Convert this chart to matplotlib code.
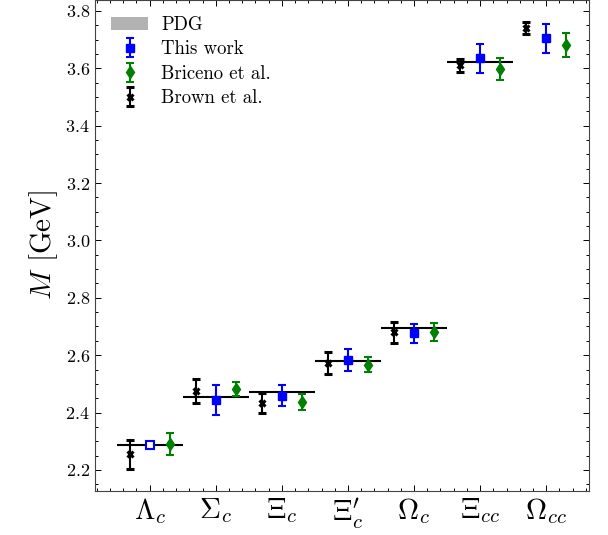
import numpy as np
import matplotlib
matplotlib.use("Agg")
import matplotlib.pyplot as plt
from matplotlib.ticker import MultipleLocator

plt.rcParams['font.family'] = 'serif'
plt.rcParams['font.serif'] = ['cmr10']
plt.rcParams['mathtext.fontset'] = 'cm'
plt.rcParams['axes.formatter.use_mathtext'] = True

# Charmed baryon masses in GeV
baryons = [r'$\Lambda_c$', r'$\Sigma_c$', r'$\Xi_c$', r"$\Xi_c'$",
           r'$\Omega_c$', r'$\Xi_{cc}$', r'$\Omega_{cc}$']

pdg = [2.286, 2.454, 2.470, 2.578, 2.695, 3.621]
pdg_err = [0.0002, 0.0002, 0.0003, 0.0005, 0.0002, 0.0004]

this_work = [2.286, 2.443, 2.459, 2.584, 2.676, 3.635, 3.705]
this_work_err = [0.0, 0.052, 0.036, 0.038, 0.032, 0.050, 0.050]

briceno = [2.290, 2.482, 2.436, 2.567, 2.682, 3.597, 3.682]
briceno_err = [0.038, 0.024, 0.028, 0.026, 0.031, 0.039, 0.041]

brown = [2.254, 2.474, 2.433, 2.573, 2.680, 3.611, 3.739]
brown_err = [0.049, 0.042, 0.036, 0.039, 0.037, 0.023, 0.021]

x = np.arange(len(baryons))
xp = np.arange(len(pdg))

fig = plt.figure(figsize=(6.08, 5.35), dpi=100)
ax = fig.add_axes([0.156, 0.083, 0.813, 0.917])

# PDG values as short horizontal bands across each slot
for i in xp:
    ax.fill_between([i - 0.5, i + 0.5], pdg[i] - pdg_err[i], pdg[i] + pdg_err[i],
                    color='gray', alpha=0.6, lw=0, label='PDG' if i == 0 else None)
    ax.hlines(pdg[i], i - 0.5, i + 0.5, color='black', lw=1.5, zorder=2)

eb = dict(capsize=3, elinewidth=1.5, capthick=1.5, ls='none', zorder=3)

ax.errorbar(x[1:], this_work[1:], yerr=this_work_err[1:], fmt='s', color='blue',
            ms=6, label='This work', **eb)
ax.plot(x[0], this_work[0], 's', color='blue', mfc='white', mew=1.5, ms=6, zorder=4)
ax.errorbar(x + 0.3, briceno, yerr=briceno_err, fmt='d', color='green',
            ms=6, label='Briceno et al.', **eb)
ax.errorbar(x - 0.3, brown, yerr=brown_err, fmt='x', color='black',
            ms=5, mew=2.2, label='Brown et al.', **eb)

ax.set_xlim(-0.83, 6.65)
ax.set_ylim(2.128, 3.838)
ax.set_xticks(x)
ax.set_xticklabels(baryons)
ax.xaxis.set_minor_locator(MultipleLocator(0.2))
ax.yaxis.set_major_locator(MultipleLocator(0.2))
ax.yaxis.set_minor_locator(MultipleLocator(0.05))
ax.tick_params(which='both', direction='in', top=True, right=True, width=0.7)
ax.tick_params(which='major', length=4)
ax.tick_params(which='minor', length=2)
ax.tick_params(axis='y', labelsize=13)
ax.tick_params(axis='x', which='major', labelsize=21, pad=4)
for s in ax.spines.values():
    s.set_linewidth(0.8)
    s.set_color('#444444')

ax.set_ylabel(r'$M$ [GeV]', fontsize=21)
ax.legend(loc='upper left', frameon=False, fontsize=13.5, handlelength=2.0,
          borderaxespad=0.45, labelspacing=0.35, handletextpad=0.7)

fig.savefig('out.png', dpi=100)
